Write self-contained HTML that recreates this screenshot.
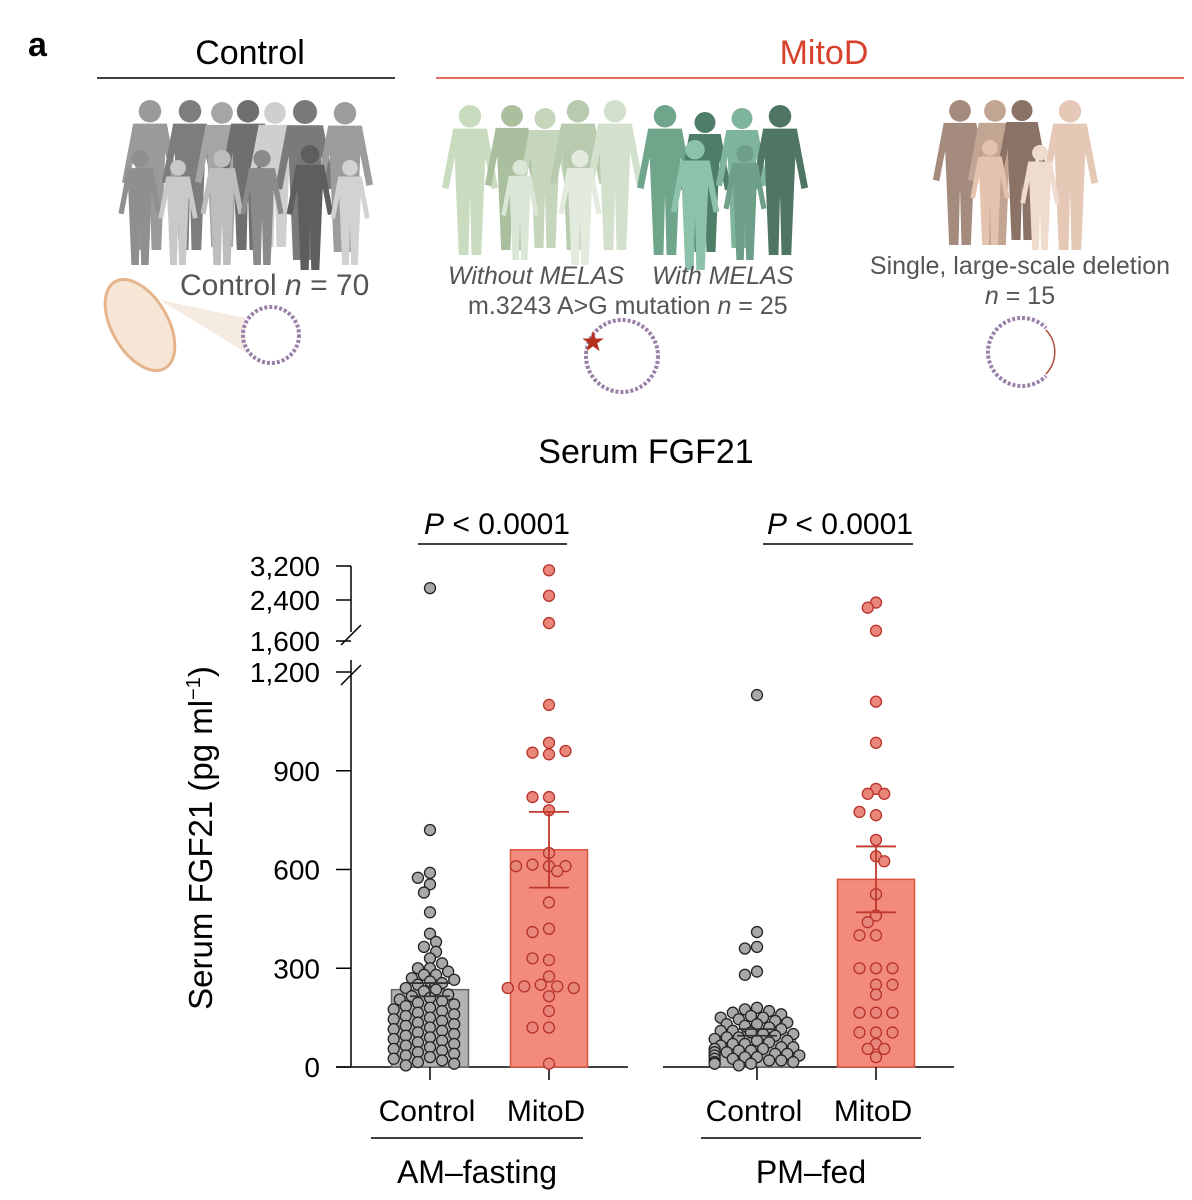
<!DOCTYPE html>
<html><head><meta charset="utf-8">
<style>
body{margin:0;background:#fff;}
svg{display:block;font-family:"Liberation Sans",sans-serif;}
</style></head>
<body>
<svg id="fig" width="1192" height="1200" viewBox="0 0 1192 1200" xmlns="http://www.w3.org/2000/svg">
<g>
<text x="28" y="56" font-size="34" font-weight="bold">a</text>
<text x="250" y="64" font-size="34" text-anchor="middle">Control</text>
<line x1="97" y1="78" x2="395" y2="78" stroke="#000" stroke-width="1.5"/>
<text x="824" y="64" font-size="34" text-anchor="middle" fill="#d9412c">MitoD</text>
<line x1="436" y1="78" x2="1184" y2="78" stroke="#d9412c" stroke-width="1.5"/>
<g id="people"></g>
<ellipse cx="140" cy="325" rx="28" ry="50" transform="rotate(-30 140 325)" fill="#f7e6d6" stroke="#e6b48c" stroke-width="3"/>
<polygon points="160,300 245,318 245,352" fill="#f1e2d4" opacity="0.7"/>
<circle cx="271" cy="335" r="28" fill="none" stroke="#9a7fa8" stroke-width="4" stroke-dasharray="3 2"/>
<text x="180" y="295" font-size="30" fill="#555">Control <tspan font-style="italic">n</tspan> = 70</text>
<text x="448" y="284" font-size="25" fill="#555" font-style="italic">Without MELAS</text>
<text x="652" y="284" font-size="25" fill="#555" font-style="italic">With MELAS</text>
<text x="468" y="314" font-size="25" fill="#555">m.3243 A&gt;G mutation <tspan font-style="italic">n</tspan> = 25</text>
<circle cx="622" cy="356" r="36" fill="none" stroke="#9a7fa8" stroke-width="4" stroke-dasharray="3 2"/>
<text x="593" y="351" font-size="28" fill="#b5301c" text-anchor="middle">★</text>
<text x="1020" y="274" font-size="25" fill="#555" text-anchor="middle">Single, large-scale deletion</text>
<text x="1020" y="304" font-size="25" fill="#555" text-anchor="middle"><tspan font-style="italic">n</tspan> = 15</text>
<circle cx="1022" cy="352" r="34" fill="none" stroke="#9a7fa8" stroke-width="4" stroke-dasharray="3 2"/>
<path d="M1046,328 A34,34 0 0 1 1046,376" fill="none" stroke="#fff" stroke-width="7"/>
<path d="M1046,330 A32,32 0 0 1 1046,374" fill="none" stroke="#b54a3a" stroke-width="1.5"/>
</g>
<g id="chart">
<text x="646" y="463" font-size="34" text-anchor="middle">Serum FGF21</text>
<text transform="translate(212,838) rotate(-90)" font-size="33" text-anchor="middle">Serum FGF21 (pg ml<tspan dy="-12" font-size="20">−1</tspan><tspan dy="12">)</tspan></text>
</g>
</svg>
<script>
// ---------- chart data ----------
var groups = ["AM-Control","AM-MitoD","PM-Control","PM-MitoD"];
var barMeans = [235, 660, 105, 570];
var semLow = [215, 545, 95, 470];
var semHigh = [255, 775, 115, 670];
var yTicks = [0, 300, 600, 900, 1200, 1600, 2400, 3200];
var yTickLabels = ["0","300","600","900","1,200","1,600","2,400","3,200"];
var amControl = [2680,720,590,575,555,530,470,405,380,365,350,330,315,300,300,290,280,280,270,265,260,255,250,240,235,230,220,215,210,205,200,195,190,185,180,175,170,165,160,155,150,145,140,135,130,125,120,115,110,105,100,95,90,85,80,75,70,65,60,55,50,45,40,35,30,25,20,15,10,5];
var amMitoD = [3100,2500,1950,1100,985,950,960,955,820,820,780,650,610,615,610,610,595,500,420,410,325,330,275,250,245,245,240,240,215,170,120,120,10];
var pmControl = [1130,410,365,360,290,280,180,175,170,165,160,155,150,150,145,140,135,130,130,125,120,115,110,110,105,100,100,95,90,90,85,80,80,75,70,70,65,60,60,55,55,50,50,45,45,40,40,35,35,30,30,25,25,20,20,15,15,10,10,5];
var pmMitoD = [2350,2250,1800,1110,985,845,830,830,765,775,690,640,625,525,460,440,400,400,300,300,300,250,250,220,165,165,165,105,105,105,70,55,55,30];
var pValues = ["0.0001","0.0001"];
var xCategories = ["Control","MitoD","Control","MitoD"];
var conditions = ["AM–fasting","PM–fed"];

var NS="http://www.w3.org/2000/svg";
var chart=document.getElementById('chart');
function mk(tag,attrs,parent){var e=document.createElementNS(NS,tag);for(var k in attrs)e.setAttribute(k,attrs[k]);(parent||chart).appendChild(e);return e;}
function yScale(v){
  if(v<=1200) return 1067 - v*(1067-672)/1200;
  if(v<=2400) return 641 - (v-1600)*(641-600)/800;
  return 600 - (v-2400)*(600-566)/800;
}
var centers=[430,549,757,876];
var barW=77;
var yax=mk('path',{d:'M351,566 L351,632 M351,660 L351,1067',stroke:'#000','stroke-width':1.5,fill:'none'});


var brk=mk('path',{d:'M341,645 L361,625 M341,685 L361,665',stroke:'#000','stroke-width':1.5,fill:'none'});


yTicks.forEach(function(t,i){
  var y=yScale(t);
  var tk=mk('line',{x1:336,x2:351,y1:y,y2:y,stroke:'#000','stroke-width':1.5});
  
  
  var lb=mk('text',{x:320,y:y+10,'font-size':28,'text-anchor':'end'});
  lb.textContent=yTickLabels[i];
  
  
});
[[336,628],[663,954]].forEach(function(r){
  var l=mk('line',{x1:r[0],x2:r[1],y1:1067,y2:1067,stroke:'#000','stroke-width':1.5});
  
  
});
var styles=[{f:'#b3b3b3',s:'#666',pf:'#a8a8a8',ps:'#222'},{f:'#f28b7b',s:'#d9533f',pf:'#e8877a',ps:'#b8322a'}];
var allData=[amControl,amMitoD,pmControl,pmMitoD];
allData.forEach(function(data,gi){
  var st=styles[gi%2], cx=centers[gi];
  var top=yScale(barMeans[gi]);
  var bar=mk('rect',{x:cx-barW/2,y:top,width:barW,height:1067-top,fill:st.f,stroke:st.s,'stroke-width':1.5});
  
  
  var tk=mk('line',{x1:cx,x2:cx,y1:1067,y2:1080,stroke:'#000','stroke-width':1.5});
  
  
  var lb=mk('text',{x:cx-3,y:1121,'font-size':30,'text-anchor':'middle'});
  lb.textContent=xCategories[gi];
  
  
  var r=5.5, placed=[];
  var minD = gi%2 ? r*1.7 : r*1.55;
  var step = gi%2 ? r*1.5 : r*1.1;
  var g=mk('g',{});
  
  
  data.forEach(function(v,i){
    var y=yScale(v), x=cx;
    for(var k=0;k<15;k++){
      var off=((k+i)%2?1:-1)*Math.ceil(k/2)*step;
      var ok=placed.every(function(p){var dx=p[0]-(cx+off),dy=p[1]-y;return dx*dx+dy*dy>=minD*minD;});
      if(ok||k==14){x=cx+off;break;}
    }
    placed.push([x,y]);
    var c=mk('circle',{cx:x,cy:y,r:r,fill:st.pf,stroke:st.ps,'stroke-width':1.3},g);
    
    
  });
  var e=mk('path',{d:'M'+cx+','+yScale(semHigh[gi])+' L'+cx+','+yScale(semLow[gi])+' M'+(cx-20)+','+yScale(semHigh[gi])+' h40 M'+(cx-20)+','+yScale(semLow[gi])+' h40',stroke:gi%2?'#c0392b':'#333','stroke-width':1.8,fill:'none'});
  
  
});
[[418,567,497,0],[763,913,840,1]].forEach(function(p){
  var l=mk('line',{x1:p[0],x2:p[1],y1:544,y2:544,stroke:'#000','stroke-width':1.5});
  
  
  var t=mk('text',{x:p[2],y:534,'font-size':30,'text-anchor':'middle'});
  t.innerHTML='<tspan font-style="italic">P</tspan> &lt; '+pValues[p[3]];
  
  
});
[[371,583,477,0],[701,921,811,1]].forEach(function(p){
  var l=mk('line',{x1:p[0],x2:p[1],y1:1138,y2:1138,stroke:'#000','stroke-width':1.5});
  
  
  var t=mk('text',{x:p[2],y:1183,'font-size':32,'text-anchor':'middle'});
  t.textContent=conditions[p[3]];
  
  
});
var pg=document.getElementById('people');
function person(x,top,h,col){
  var w=h*0.34, hr=h*0.075, s=top+hr*2.1;
  var d='M'+(x-w*0.33)+','+s+' L'+(x+w*0.33)+','+s+' L'+(x+w*0.55)+','+(top+h*0.55)+' L'+(x+w*0.42)+','+(top+h*0.56)+' L'+(x+w*0.3)+','+(top+h*0.35)+' L'+(x+w*0.22)+','+(top+h)+' L'+(x+w*0.03)+','+(top+h)+' L'+x+','+(top+h*0.6)+' L'+(x-w*0.03)+','+(top+h)+' L'+(x-w*0.22)+','+(top+h)+' L'+(x-w*0.3)+','+(top+h*0.35)+' L'+(x-w*0.42)+','+(top+h*0.56)+' L'+(x-w*0.55)+','+(top+h*0.55)+' Z';
  var b=mk('path',{d:d,fill:col},pg);
  
  
  var hd=mk('circle',{cx:x,cy:top+hr,r:hr,fill:col},pg);
  
  
}
[[150,100,150,'#9a9a9a'],[190,100,150,'#7d7d7d'],[222,102,145,'#a5a5a5'],[248,100,150,'#6f6f6f'],[275,102,145,'#cfcfcf'],[305,100,160,'#7a7a7a'],[345,102,150,'#9c9c9c'],
 [140,150,115,'#8f8f8f'],[178,160,105,'#c9c9c9'],[222,150,115,'#bdbdbd'],[262,150,115,'#8a8a8a'],[310,145,125,'#5e5e5e'],[350,160,105,'#d2d2d2']].forEach(function(p){person.apply(null,p);});
[[470,105,150,'#c9dcc0'],[512,105,145,'#a9bf9e'],[545,108,140,'#c5d6bd'],[578,100,150,'#b8cbae'],[615,100,150,'#d3e1cc'],[520,160,100,'#dbe7d6'],[580,150,115,'#e2ebdd'],
 [665,105,150,'#6fa68b'],[705,112,140,'#4e7d68'],[742,108,140,'#7fb59c'],[780,105,150,'#4f7663'],[695,140,130,'#8cc2aa'],[745,145,115,'#6e9f88']].forEach(function(p){person.apply(null,p);});
[[960,100,145,'#a58a7e'],[995,100,145,'#c3a594'],[1022,100,140,'#8a7266'],[1070,100,150,'#e6c8b6'],[990,140,105,'#e3c2ae'],[1040,145,105,'#efdccf']].forEach(function(p){person.apply(null,p);});
</script>
</body></html>
